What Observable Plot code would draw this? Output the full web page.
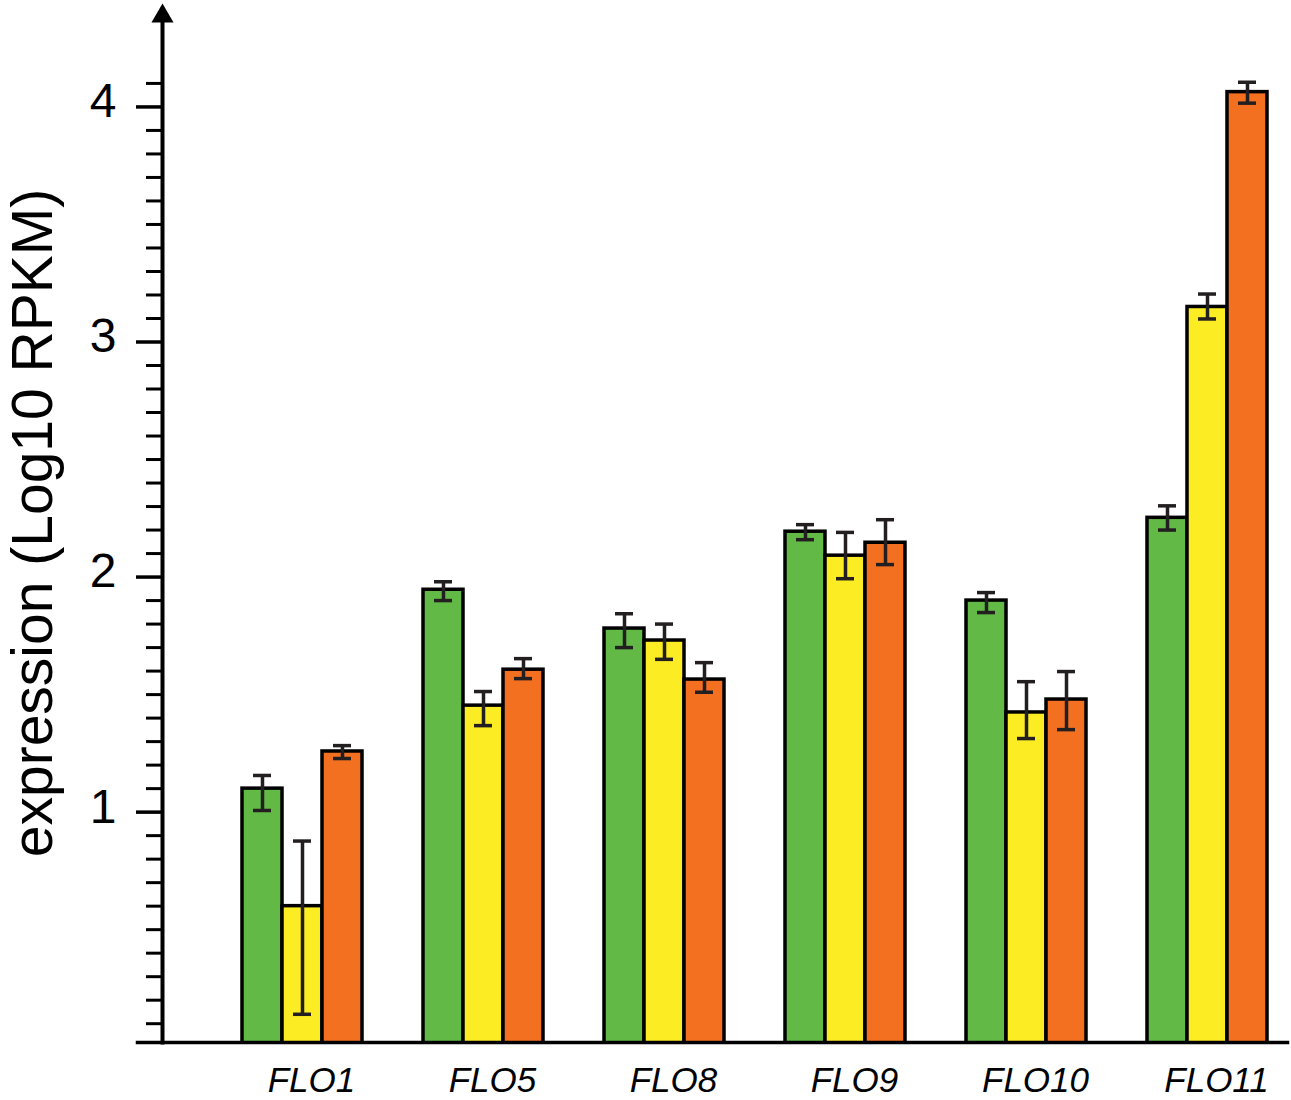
<!DOCTYPE html>
<html>
<head>
<meta charset="utf-8">
<script src="https://cdn.jsdelivr.net/npm/d3@7"></script>
<script src="https://cdn.jsdelivr.net/npm/@observablehq/plot@0.6"></script>
<style>
  html, body { margin: 0; padding: 0; background: #fff; }
  #chart svg { display: block; }
</style>
</head>
<body>
<div id="chart"></div>
<script>
// ---- data ----
const genes = ["FLO1", "FLO5", "FLO8", "FLO9", "FLO10", "FLO11"];
const seriesNames = ["s1", "s2", "s3"];
const seriesColors = ["#62b946", "#fcec24", "#f37021"];

const meanS1 = [1.10, 1.946, 1.781, 2.193, 1.90, 2.252];
const meanS2 = [0.60, 1.453, 1.73, 2.091, 1.424, 3.149];
const meanS3 = [1.258, 1.606, 1.564, 2.146, 1.479, 4.063];

const loS1 = [1.007, 1.90, 1.70, 2.159, 1.849, 2.20];
const loS2 = [0.14, 1.368, 1.65, 1.993, 1.313, 3.098];
const loS3 = [1.228, 1.568, 1.51, 2.053, 1.351, 4.016];

const hiS1 = [1.156, 1.98, 1.844, 2.223, 1.934, 2.303];
const hiS2 = [0.877, 1.513, 1.80, 2.19, 1.555, 3.204];
const hiS3 = [1.283, 1.653, 1.636, 2.244, 1.598, 4.105];

const majorTicks = [1, 2, 3, 4];
const minorTicks = d3.range(1, 42).map(i => i / 10).filter(v => !Number.isInteger(v));
const yLabel = "expression (Log10 RPKM)";

// ---- table ----
const means = [meanS1, meanS2, meanS3];
const los = [loS1, loS2, loS3];
const his = [hiS1, hiS2, hiS3];
const table = [];
seriesNames.forEach((s, j) => {
  genes.forEach((g, i) => {
    table.push({gene: g, series: s, idx: j, value: means[j][i], lo: los[j][i], hi: his[j][i]});
  });
});

const barW = 40;   // px width of one bar within a 120px group
const capHalf = 9;
const errColor = "#231f20";

const marks = [];
seriesNames.forEach((s, j) => {
  const d = table.filter(r => r.series === s);
  marks.push(Plot.barY(d, {
    x: "gene", y: "value",
    fill: seriesColors[j], stroke: "#000", strokeWidth: 3.5,
    insetLeft: j * barW, insetRight: (2 - j) * barW,
    clip: true
  }));
});
seriesNames.forEach((s, j) => {
  const d = table.filter(r => r.series === s);
  const off = (j - 1) * barW;
  marks.push(Plot.ruleX(d, {x: "gene", y1: "lo", y2: "hi", dx: off, stroke: errColor, strokeWidth: 3.5}));
  const il = j * barW + barW / 2 - capHalf;
  const ir = (2 - j) * barW + barW / 2 - capHalf;
  marks.push(Plot.tickY(d, {x: "gene", y: "lo", insetLeft: il, insetRight: ir, stroke: errColor, strokeWidth: 3.5}));
  marks.push(Plot.tickY(d, {x: "gene", y: "hi", insetLeft: il, insetRight: ir, stroke: errColor, strokeWidth: 3.5}));
});

const chart = Plot.plot({
  width: 1291,
  height: 1100,
  marginLeft: 162,
  marginRight: 4,
  marginTop: 3,
  marginBottom: 58,
  style: {fontFamily: "'Liberation Sans', Arial, sans-serif", color: "#000", background: "#fff"},
  x: {domain: genes, paddingInner: 0.337, paddingOuter: 0.276, align: 0.8},
  y: {domain: [0.02, 4.44]},
  marks: [
    ...marks,
    Plot.axisY({ticks: minorTicks, tickSize: 16, tickFormat: () => "", strokeWidth: 3, label: null}),
    Plot.axisY({ticks: majorTicks, tickSize: 26, tickFormat: () => "", strokeWidth: 3.5, label: null}),
    Plot.axisY({ticks: majorTicks, tickSize: 0, tickPadding: 46, tickFormat: d => String(d), fontSize: 48, dy: -5, label: null}),
    Plot.axisX({tickSize: 0, tickPadding: 25, fontSize: 35, fontStyle: "italic", dx: 9, label: null}),
    Plot.frame({anchor: "left", stroke: "#000", strokeWidth: 4, insetTop: 15}),
    Plot.frame({anchor: "bottom", stroke: "#000", strokeWidth: 3.5, insetLeft: -25}),
    Plot.dot([0], {frameAnchor: "top-left", symbol: "triangle", r: 8.2, fill: "#000", stroke: "none", dy: 12.7}),
    Plot.text([yLabel], {text: d => d, frameAnchor: "left", textAnchor: "middle", rotate: -90, dx: -111, lineAnchor: "bottom", fontSize: 57, fill: "#000"})
  ]
});
document.getElementById("chart").appendChild(chart);
</script>
</body>
</html>
